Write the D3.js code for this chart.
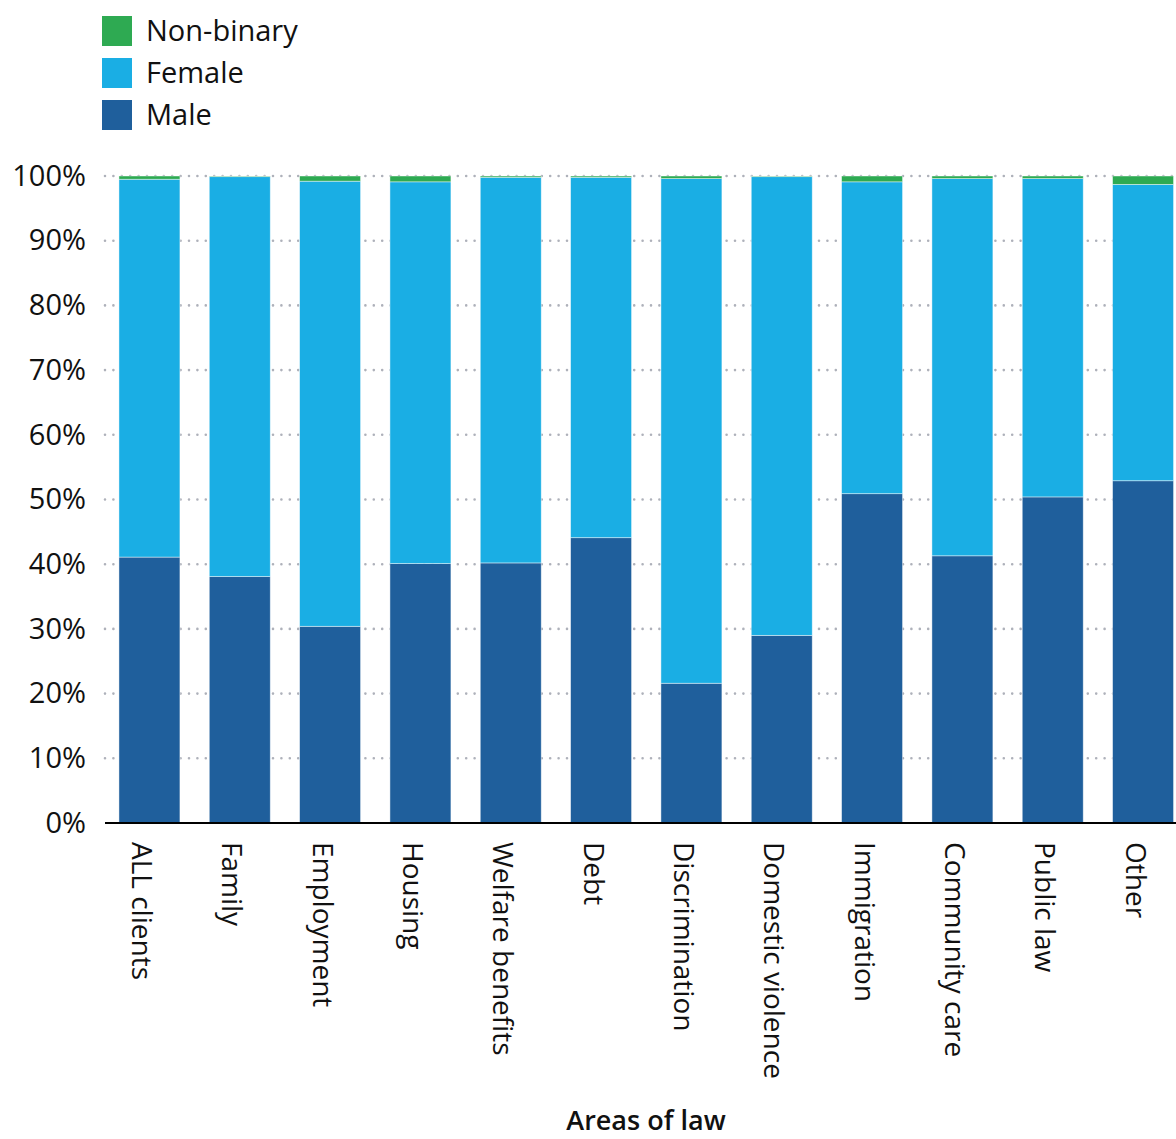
<!DOCTYPE html>
<html>
<head>
<meta charset="utf-8">
<script src="https://cdn.jsdelivr.net/npm/d3@7"></script>
<style>
  html, body { margin: 0; padding: 0; background: #ffffff; }
  svg { display: block; font-family: "Open Sans", "Noto Sans", sans-serif; }
</style>
</head>
<body>
<svg id="chart" width="1176" height="1139"></svg>
<script>
// Share of clients by gender within each area of law (percent)
const categories = ["ALL clients", "Family", "Employment", "Housing", "Welfare benefits", "Debt",
  "Discrimination", "Domestic violence", "Immigration", "Community care", "Public law", "Other"];
const male      = [41.1, 38.1, 30.4, 40.1, 40.2, 44.1, 21.6, 29.0, 50.9, 41.3, 50.4, 52.9];
const female    = [58.4, 61.8, 68.8, 59.0, 59.6, 55.7, 78.0, 70.9, 48.2, 58.3, 49.2, 45.8];
const nonBinary = [0.5, 0.1, 0.8, 0.9, 0.2, 0.2, 0.4, 0.1, 0.9, 0.4, 0.4, 1.3];
const seriesNames = ["Male", "Female", "Non-binary"];
const seriesColors = ["#1f5f9c", "#1aaee4", "#2eaa52"];
const yTicks = [0, 10, 20, 30, 40, 50, 60, 70, 80, 90, 100];
const xTitle = "Areas of law";

const rows = categories.map((c, i) => ({
  category: c, "Male": male[i], "Female": female[i], "Non-binary": nonBinary[i]
}));

const svg = d3.select("#chart");
const plotLeft = 105, plotRight = 1176, plotTop = 176, plotBottom = 823;

const x = d3.scaleBand()
  .domain(categories)
  .range([104.5, 1188])
  .paddingInner(0.325)
  .paddingOuter(0.16);

const y = d3.scaleLinear().domain([0, 100]).range([plotBottom, plotTop]);
const color = d3.scaleOrdinal().domain(seriesNames).range(seriesColors);

// dotted gridlines
svg.append("g")
  .selectAll("line")
  .data(yTicks.filter(t => t > 0))
  .join("line")
  .attr("x1", plotLeft).attr("x2", plotRight)
  .attr("y1", d => y(d)).attr("y2", d => y(d))
  .attr("stroke", "#aeb1ba")
  .attr("stroke-width", 2.6)
  .attr("stroke-linecap", "round")
  .attr("stroke-dasharray", "0,8.4");

// stacked bars
const stacked = d3.stack().keys(seriesNames)(rows);
svg.append("g")
  .selectAll("g")
  .data(stacked)
  .join("g")
  .attr("fill", d => color(d.key))
  .selectAll("rect")
  .data(d => d)
  .join("rect")
  .attr("x", d => x(d.data.category))
  .attr("width", x.bandwidth())
  .attr("y", d => y(d[1]))
  .attr("height", d => y(d[0]) - y(d[1]))
  .attr("stroke", "#ffffff")
  .attr("stroke-opacity", 0.55)
  .attr("stroke-width", 0.8);

// y axis labels
const yAxis = d3.axisLeft(y).tickValues(yTicks).tickFormat(d => d + "%").tickSize(0).tickPadding(0);
const yg = svg.append("g").attr("transform", "translate(86,0)").call(yAxis);
yg.select(".domain").remove();
yg.selectAll("text")
  .attr("font-family", "'Open Sans', 'Noto Sans', sans-serif")
  .attr("font-size", 29)
  .attr("fill", "#111111");

// x axis baseline and rotated category labels
const xAxis = d3.axisBottom(x).tickSize(0).tickPadding(0);
const xg = svg.append("g").attr("transform", `translate(0,${plotBottom})`).call(xAxis);
xg.select(".domain").remove();
xg.selectAll("text")
  .attr("font-family", "'Open Sans', 'Noto Sans', sans-serif")
  .attr("font-size", 28)
  .attr("fill", "#111111")
  .attr("text-anchor", "start")
  .attr("transform", "translate(-0.5,19) rotate(90)")
  .attr("x", 0)
  .attr("y", 0)
  .attr("dy", "17");

svg.append("line")
  .attr("x1", plotLeft).attr("x2", plotRight)
  .attr("y1", plotBottom).attr("y2", plotBottom)
  .attr("stroke", "#000000")
  .attr("stroke-width", 2);

// axis title
svg.append("text")
  .attr("x", 646)
  .attr("y", 1130)
  .attr("text-anchor", "middle")
  .attr("font-size", 27)
  .attr("font-weight", 600)
  .attr("fill", "#111111")
  .text(xTitle);

// legend (top to bottom: Non-binary, Female, Male)
const legendOrder = seriesNames.slice().reverse();
const legend = svg.append("g")
  .selectAll("g")
  .data(legendOrder)
  .join("g")
  .attr("transform", (d, i) => `translate(102,${16 + i * 42})`);
legend.append("rect")
  .attr("width", 30).attr("height", 30)
  .attr("fill", d => color(d));
legend.append("text")
  .attr("x", 44).attr("y", 15)
  .attr("dy", "0.35em")
  .attr("font-size", 29)
  .attr("fill", "#111111")
  .text(d => d);
</script>
</body>
</html>
